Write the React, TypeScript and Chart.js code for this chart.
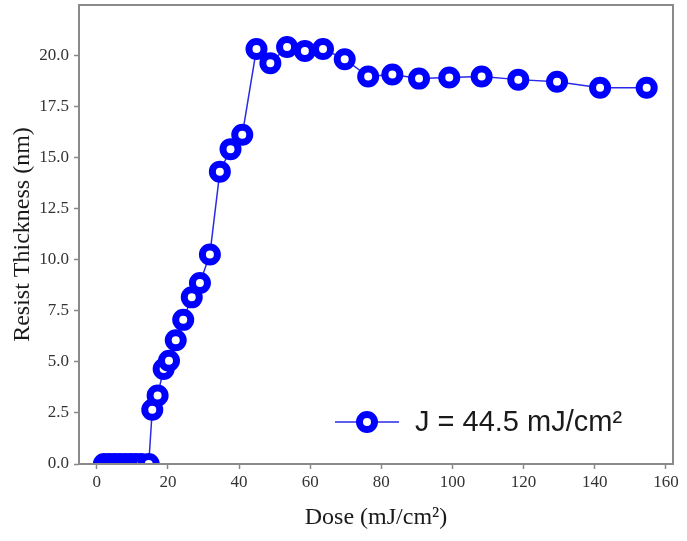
import React, { useEffect, useRef } from 'react';
import { Chart, registerables } from 'chart.js';
Chart.register(...registerables);

const doseValues = [2, 3.5, 5, 6.5, 8, 9.5, 11, 12.5, 14.6, 15.6, 17.1, 18.8, 20.3, 22.2, 24.3, 26.7, 29.0, 31.8, 34.6, 37.6, 40.9, 44.9, 48.8, 53.5, 58.5, 63.6, 69.7, 76.3, 83.1, 90.6, 99.1, 108.2, 118.5, 129.4, 141.5, 154.6];
const thicknessValues = [0, 0, 0, 0, 0, 0, 0, 0, 0, 2.65, 3.35, 4.65, 5.05, 6.05, 7.05, 8.15, 8.85, 10.25, 14.3, 15.4, 16.1, 20.3, 19.6, 20.4, 20.2, 20.3, 19.8, 18.95, 19.05, 18.85, 18.9, 18.95, 18.8, 18.7, 18.4, 18.4];
const xTickValues = [0, 20, 40, 60, 80, 100, 120, 140, 160];
const yTickValues = [0, 2.5, 5, 7.5, 10, 12.5, 15, 17.5, 20];
const seriesLabel = 'J = 44.5 mJ/cm²';
const xTitle = 'Dose (mJ/cm²)';
const yTitle = 'Resist Thickness (nm)';

const SERIF = '"Liberation Serif", "Times New Roman", serif';
const SANS = '"Liberation Sans", Arial, sans-serif';
const BLUE = '#0000ff';
const LINE_BLUE = '#2a2ae6';
const PLOT_TOP = 5;

const topFixPlugin = {
  id: 'topFix',
  afterLayout(chart: any) {
    const y = chart.scales.y;
    const ca = chart.chartArea;
    ca.top = PLOT_TOP;
    ca.height = ca.bottom - PLOT_TOP;
    y.top = PLOT_TOP;
    y.height = y.bottom - PLOT_TOP;
    y.configure();
  },
};

const framePlugin = {
  id: 'frameAndLegend',
  afterDraw(chart: any) {
    const { ctx, chartArea: a } = chart;
    ctx.save();
    ctx.strokeStyle = '#8a8a8a';
    ctx.lineWidth = 2;
    ctx.strokeRect(a.left, a.top, a.right - a.left, a.bottom - a.top);
    // legend
    const ly = a.bottom - 42;
    const lx = a.left + 256;
    ctx.strokeStyle = LINE_BLUE;
    ctx.lineWidth = 1.5;
    ctx.beginPath();
    ctx.moveTo(lx, ly);
    ctx.lineTo(lx + 64, ly);
    ctx.stroke();
    ctx.beginPath();
    ctx.arc(lx + 32, ly, 7.5, 0, Math.PI * 2);
    ctx.fillStyle = '#ffffff';
    ctx.fill();
    ctx.strokeStyle = BLUE;
    ctx.lineWidth = 7;
    ctx.stroke();
    ctx.fillStyle = '#1a1a1a';
    ctx.font = '29px ' + SANS;
    ctx.textBaseline = 'middle';
    ctx.textAlign = 'left';
    ctx.fillText(seriesLabel, lx + 80, ly + 1);
    ctx.restore();
  },
};

export default function App() {
  const ref = useRef<HTMLCanvasElement | null>(null);
  useEffect(() => {
    if (!ref.current) return;
    const chart = new Chart(ref.current, {
      type: 'line',
      data: {
        datasets: [
          {
            label: seriesLabel,
            data: doseValues.map((x, i) => ({ x, y: thicknessValues[i] })),
            borderColor: LINE_BLUE,
            borderWidth: 1.5,
            pointRadius: 7.5,
            pointBorderWidth: 7,
            pointBorderColor: BLUE,
            pointBackgroundColor: '#ffffff',
            pointHoverRadius: 7.5,
            tension: 0,
            clip: 0,
          } as any,
        ],
      },
      options: {
        animation: false,
        responsive: true,
        maintainAspectRatio: false,
        layout: { autoPadding: false, padding: { top: 5, right: 14, left: 0, bottom: 0 } },
        plugins: { legend: { display: false }, tooltip: { enabled: false } },
        scales: {
          x: {
            type: 'linear',
            min: -5,
            max: 162,
            afterBuildTicks: (s: any) => {
              s.ticks = xTickValues.map((v) => ({ value: v }));
            },
            afterFit: (s: any) => {
              s.height = 77;
            },
            ticks: {
              font: { family: SERIF, size: 17 },
              color: '#333',
              padding: 3,
              maxRotation: 0,
              callback: (v: any) => String(v),
            },
            grid: { drawOnChartArea: false, drawTicks: true, tickLength: 5, tickColor: '#888', tickWidth: 1.5 },
            border: { display: false },
            title: {
              display: true,
              text: xTitle,
              font: { family: SERIF, size: 24 },
              color: '#1a1a1a',
              padding: { top: 0, bottom: 9 },
            },
          },
          y: {
            type: 'linear',
            min: 0,
            max: 22.45,
            afterBuildTicks: (s: any) => {
              s.ticks = yTickValues.map((v) => ({ value: v }));
            },
            afterFit: (s: any) => {
              s.width = 79;
            },
            ticks: {
              font: { family: SERIF, size: 17 },
              color: '#333',
              padding: 5,
              callback: (v: any) => Number(v).toFixed(1),
            },
            grid: { drawOnChartArea: false, drawTicks: true, tickLength: 5, tickColor: '#888', tickWidth: 1.5 },
            border: { display: false },
            title: {
              display: true,
              text: yTitle,
              font: { family: SERIF, size: 24 },
              color: '#1a1a1a',
              padding: { top: 8, bottom: 0 },
            },
          },
        },
      },
      plugins: [topFixPlugin, framePlugin],
    });
    return () => chart.destroy();
  }, []);
  return (
    <div style={{ position: 'fixed', left: 0, top: 0, width: 687, height: 541, background: '#fff' }}>
      <canvas ref={ref} />
    </div>
  );
}
